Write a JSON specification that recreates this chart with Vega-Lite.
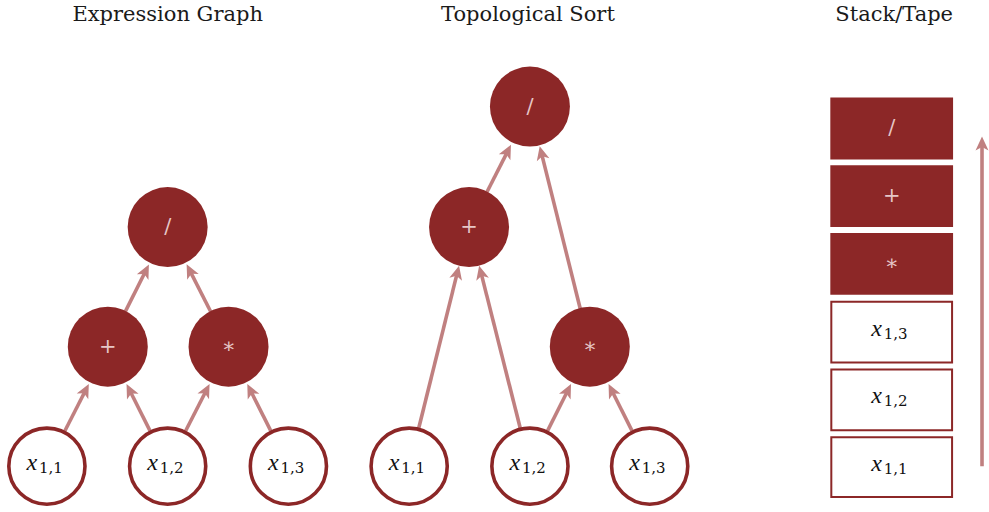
{
  "$schema": "https://vega.github.io/schema/vega-lite/v6.json",
  "width": 989,
  "height": 512,
  "padding": 0,
  "autosize": {"type": "fit", "contains": "padding"},
  "background": "white",
  "config": {"view": {"stroke": null}},
  "datasets": {
    "items": [
      {"x": 168, "y": 228, "label": "/", "sub": "", "kind": "op", "form": "circle"},
      {"x": 108, "y": 348, "label": "+", "sub": "", "kind": "op", "form": "circle"},
      {"x": 229, "y": 348, "label": "∗", "sub": "", "kind": "op", "form": "circle"},
      {"x": 47, "y": 468, "label": "x", "sub": "1,1", "kind": "leaf", "form": "circle"},
      {"x": 168, "y": 468, "label": "x", "sub": "1,2", "kind": "leaf", "form": "circle"},
      {"x": 289, "y": 468, "label": "x", "sub": "1,3", "kind": "leaf", "form": "circle"},
      {"x": 531, "y": 107, "label": "/", "sub": "", "kind": "op", "form": "circle"},
      {"x": 470, "y": 228, "label": "+", "sub": "", "kind": "op", "form": "circle"},
      {"x": 591, "y": 348, "label": "∗", "sub": "", "kind": "op", "form": "circle"},
      {"x": 410, "y": 468, "label": "x", "sub": "1,1", "kind": "leaf", "form": "circle"},
      {"x": 531, "y": 468, "label": "x", "sub": "1,2", "kind": "leaf", "form": "circle"},
      {"x": 651, "y": 468, "label": "x", "sub": "1,3", "kind": "leaf", "form": "circle"},
      {"x": 893.5, "y": 129, "label": "/", "sub": "", "kind": "op", "form": "box"},
      {"x": 893.5, "y": 197, "label": "+", "sub": "", "kind": "op", "form": "box"},
      {"x": 893.5, "y": 265, "label": "∗", "sub": "", "kind": "op", "form": "box"},
      {"x": 893.5, "y": 333, "label": "x", "sub": "1,3", "kind": "leaf", "form": "box"},
      {"x": 893.5, "y": 401, "label": "x", "sub": "1,2", "kind": "leaf", "form": "box"},
      {"x": 893.5, "y": 469, "label": "x", "sub": "1,1", "kind": "leaf", "form": "box"}
    ],
    "boxes": [
      {"x0": 832, "x1": 955, "y0": 98, "y1": 160, "kind": "op"},
      {"x0": 832, "x1": 955, "y0": 166, "y1": 228, "kind": "op"},
      {"x0": 832, "x1": 955, "y0": 234, "y1": 296, "kind": "op"},
      {"x0": 833, "x1": 954, "y0": 303, "y1": 364, "kind": "leaf"},
      {"x0": 833, "x1": 954, "y0": 371, "y1": 432, "kind": "leaf"},
      {"x0": 833, "x1": 954, "y0": 439, "y1": 499, "kind": "leaf"}
    ],
    "edges": [
      {"x": 64.7, "y": 433.2, "lx": 84.9, "ly": 393.5, "tx": 89.0, "ty": 385.4, "angle": 26.95},
      {"x": 150.6, "y": 433.1, "lx": 130.8, "ly": 393.6, "tx": 126.8, "ty": 385.6, "angle": -26.57},
      {"x": 185.7, "y": 433.2, "lx": 205.9, "ly": 393.5, "tx": 210.0, "ty": 385.4, "angle": 26.95},
      {"x": 271.6, "y": 433.1, "lx": 251.8, "ly": 393.6, "tx": 247.8, "ty": 385.6, "angle": -26.57},
      {"x": 125.4, "y": 313.1, "lx": 145.2, "ly": 273.6, "tx": 149.2, "ty": 265.6, "angle": 26.57},
      {"x": 211.3, "y": 313.2, "lx": 191.1, "ly": 273.5, "tx": 187.0, "ty": 265.4, "angle": -26.95},
      {"x": 419.5, "y": 430.2, "lx": 457.8, "ly": 275.5, "tx": 460.0, "ty": 266.7, "angle": 14.04},
      {"x": 521.4, "y": 430.2, "lx": 482.4, "ly": 275.4, "tx": 480.1, "ty": 266.7, "angle": -14.26},
      {"x": 548.4, "y": 433.1, "lx": 568.2, "ly": 393.6, "tx": 572.2, "ty": 385.6, "angle": 26.57},
      {"x": 633.6, "y": 433.1, "lx": 613.8, "ly": 393.6, "tx": 609.8, "ty": 385.6, "angle": -26.57},
      {"x": 487.7, "y": 193.2, "lx": 507.9, "ly": 153.5, "tx": 512.0, "ty": 145.4, "angle": 26.95},
      {"x": 581.5, "y": 310.2, "lx": 543.0, "ly": 155.5, "tx": 540.8, "ty": 146.7, "angle": -14.04},
      {"x": 984, "y": 468, "lx": 984, "ly": 146, "tx": 984, "ty": 137, "angle": 0}
    ],
    "titles": [
      {"x": 168, "y": 21, "label": "Expression Graph"},
      {"x": 529, "y": 21, "label": "Topological Sort"},
      {"x": 896, "y": 21, "label": "Stack/Tape"}
    ]
  },
  "encoding": {
    "x": {"field": "x", "type": "quantitative", "axis": null, "scale": {"domain": [0, 989], "nice": false, "zero": false}},
    "y": {"field": "y", "type": "quantitative", "axis": null, "scale": {"domain": [0, 512], "nice": false, "zero": false, "reverse": true}}
  },
  "layer": [
    {
      "data": {"name": "edges"},
      "mark": {"type": "rule", "color": "#C08080", "strokeWidth": 3.6},
      "encoding": {
        "x2": {"field": "lx"},
        "y2": {"field": "ly"}
      }
    },
    {
      "data": {"name": "edges"},
      "mark": {"type": "point", "filled": true, "opacity": 1, "color": "#C08080", "strokeWidth": 0, "size": 100, "shape": "M0,0 L1.3,2.8 L0,2.1 L-1.3,2.8 Z"},
      "encoding": {
        "x": {"field": "tx", "type": "quantitative"},
        "y": {"field": "ty", "type": "quantitative"},
        "angle": {"field": "angle", "type": "quantitative", "scale": null}
      }
    },
    {
      "data": {"name": "items"},
      "transform": [{"filter": "datum.form === 'circle' && datum.kind === 'op'"}],
      "mark": {"type": "point", "shape": "circle", "filled": true, "opacity": 1, "color": "#8C2727", "strokeWidth": 0, "size": 6400}
    },
    {
      "data": {"name": "items"},
      "transform": [{"filter": "datum.form === 'circle' && datum.kind === 'leaf'"}],
      "mark": {"type": "point", "shape": "circle", "filled": false, "opacity": 1, "fill": "white", "fillOpacity": 1, "stroke": "#8C2727", "strokeWidth": 3.6, "size": 5800}
    },
    {
      "data": {"name": "boxes"},
      "transform": [{"filter": "datum.kind === 'op'"}],
      "mark": {"type": "rect", "color": "#8C2727", "strokeWidth": 0},
      "encoding": {
        "x": {"field": "x0", "type": "quantitative"},
        "x2": {"field": "x1"},
        "y": {"field": "y0", "type": "quantitative"},
        "y2": {"field": "y1"}
      }
    },
    {
      "data": {"name": "boxes"},
      "transform": [{"filter": "datum.kind === 'leaf'"}],
      "mark": {"type": "rect", "fill": "white", "stroke": "#8C2727", "strokeWidth": 2},
      "encoding": {
        "x": {"field": "x0", "type": "quantitative"},
        "x2": {"field": "x1"},
        "y": {"field": "y0", "type": "quantitative"},
        "y2": {"field": "y1"}
      }
    },
    {
      "data": {"name": "items"},
      "transform": [{"filter": "datum.kind === 'op'"}],
      "mark": {"type": "text", "font": "DejaVu Serif", "fontSize": 21, "color": "#E6C6C6", "align": "center", "baseline": "middle"},
      "encoding": {"text": {"field": "label"}}
    },
    {
      "data": {"name": "items"},
      "transform": [{"filter": "datum.kind === 'leaf'"}],
      "mark": {"type": "text", "font": "Liberation Serif", "fontStyle": "italic", "fontSize": 24, "color": "#111111", "align": "center", "baseline": "alphabetic", "dx": -15, "dy": 4},
      "encoding": {"text": {"field": "label"}}
    },
    {
      "data": {"name": "items"},
      "transform": [{"filter": "datum.kind === 'leaf'"}],
      "mark": {"type": "text", "font": "DejaVu Serif", "fontSize": 15, "color": "#111111", "align": "left", "baseline": "alphabetic", "dx": -8, "dy": 7},
      "encoding": {"text": {"field": "sub"}}
    },
    {
      "data": {"name": "titles"},
      "mark": {"type": "text", "font": "DejaVu Serif", "fontSize": 21, "color": "#1a1a1a", "align": "center", "baseline": "alphabetic"},
      "encoding": {"text": {"field": "label"}}
    }
  ]
}
